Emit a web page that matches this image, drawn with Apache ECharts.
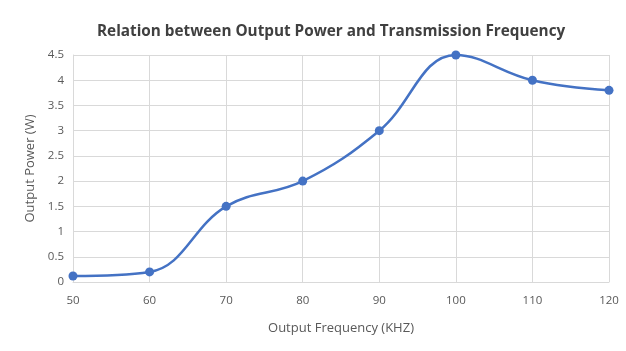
<!DOCTYPE html>
<html>
<head>
<meta charset="utf-8">
<script src="https://cdn.jsdelivr.net/npm/echarts@6/dist/echarts.min.js"></script>
<style>
  html, body { margin: 0; padding: 0; background: #fff; }
  #chart { width: 626px; height: 351px; }
</style>
</head>
<body>
<div id="chart"></div>
<script>
// data
var frequency = [50, 60, 70, 80, 90, 100, 110, 120];
var power = [0.12, 0.2, 1.5, 2, 3, 4.5, 4, 3.8];

var points = frequency.map(function (f, i) { return [f, power[i]]; });

var chart = echarts.init(document.getElementById('chart'));
chart.setOption({
    backgroundColor: '#fff',
    animation: false,
    title: {
        text: 'Relation between Output Power and Transmission Frequency',
        left: 92,
        top: 19,
        textStyle: { fontFamily: 'Open Sans', fontSize: 15.3, fontWeight: 'bold', color: '#404040' }
    },
    grid: { left: 73, right: 17, top: 55, bottom: 69 },
    xAxis: {
        type: 'value',
        min: 50, max: 120, interval: 10,
        name: 'Output Frequency (KHZ)',
        nameLocation: 'middle',
        nameGap: 40,
        nameTextStyle: { fontFamily: 'Open Sans', fontSize: 13, color: '#595959' },
        axisLine: { show: true, lineStyle: { color: '#d9d9d9' } },
        axisTick: { show: false },
        axisLabel: { fontFamily: 'Open Sans', fontSize: 11.5, color: '#595959', margin: 13 },
        splitLine: { show: true, lineStyle: { color: '#d9d9d9' } }
    },
    yAxis: {
        type: 'value',
        min: 0, max: 4.5, interval: 0.5,
        name: 'Output Power (W)',
        nameLocation: 'middle',
        nameGap: 36,
        nameTextStyle: { fontFamily: 'Open Sans', fontSize: 13, color: '#595959' },
        axisLine: { show: true, lineStyle: { color: '#d9d9d9' } },
        axisTick: { show: false },
        axisLabel: { fontFamily: 'Open Sans', fontSize: 11.5, color: '#595959', margin: 9 },
        splitLine: { show: true, lineStyle: { color: '#d9d9d9' } }
    },
    series: [{
        type: 'line',
        data: points,
        smooth: 0.4,
        symbol: 'circle',
        symbolSize: 9,
        lineStyle: { color: '#4472c4', width: 2.5 },
        itemStyle: { color: '#4472c4' }
    }]
});
</script>
</body>
</html>
